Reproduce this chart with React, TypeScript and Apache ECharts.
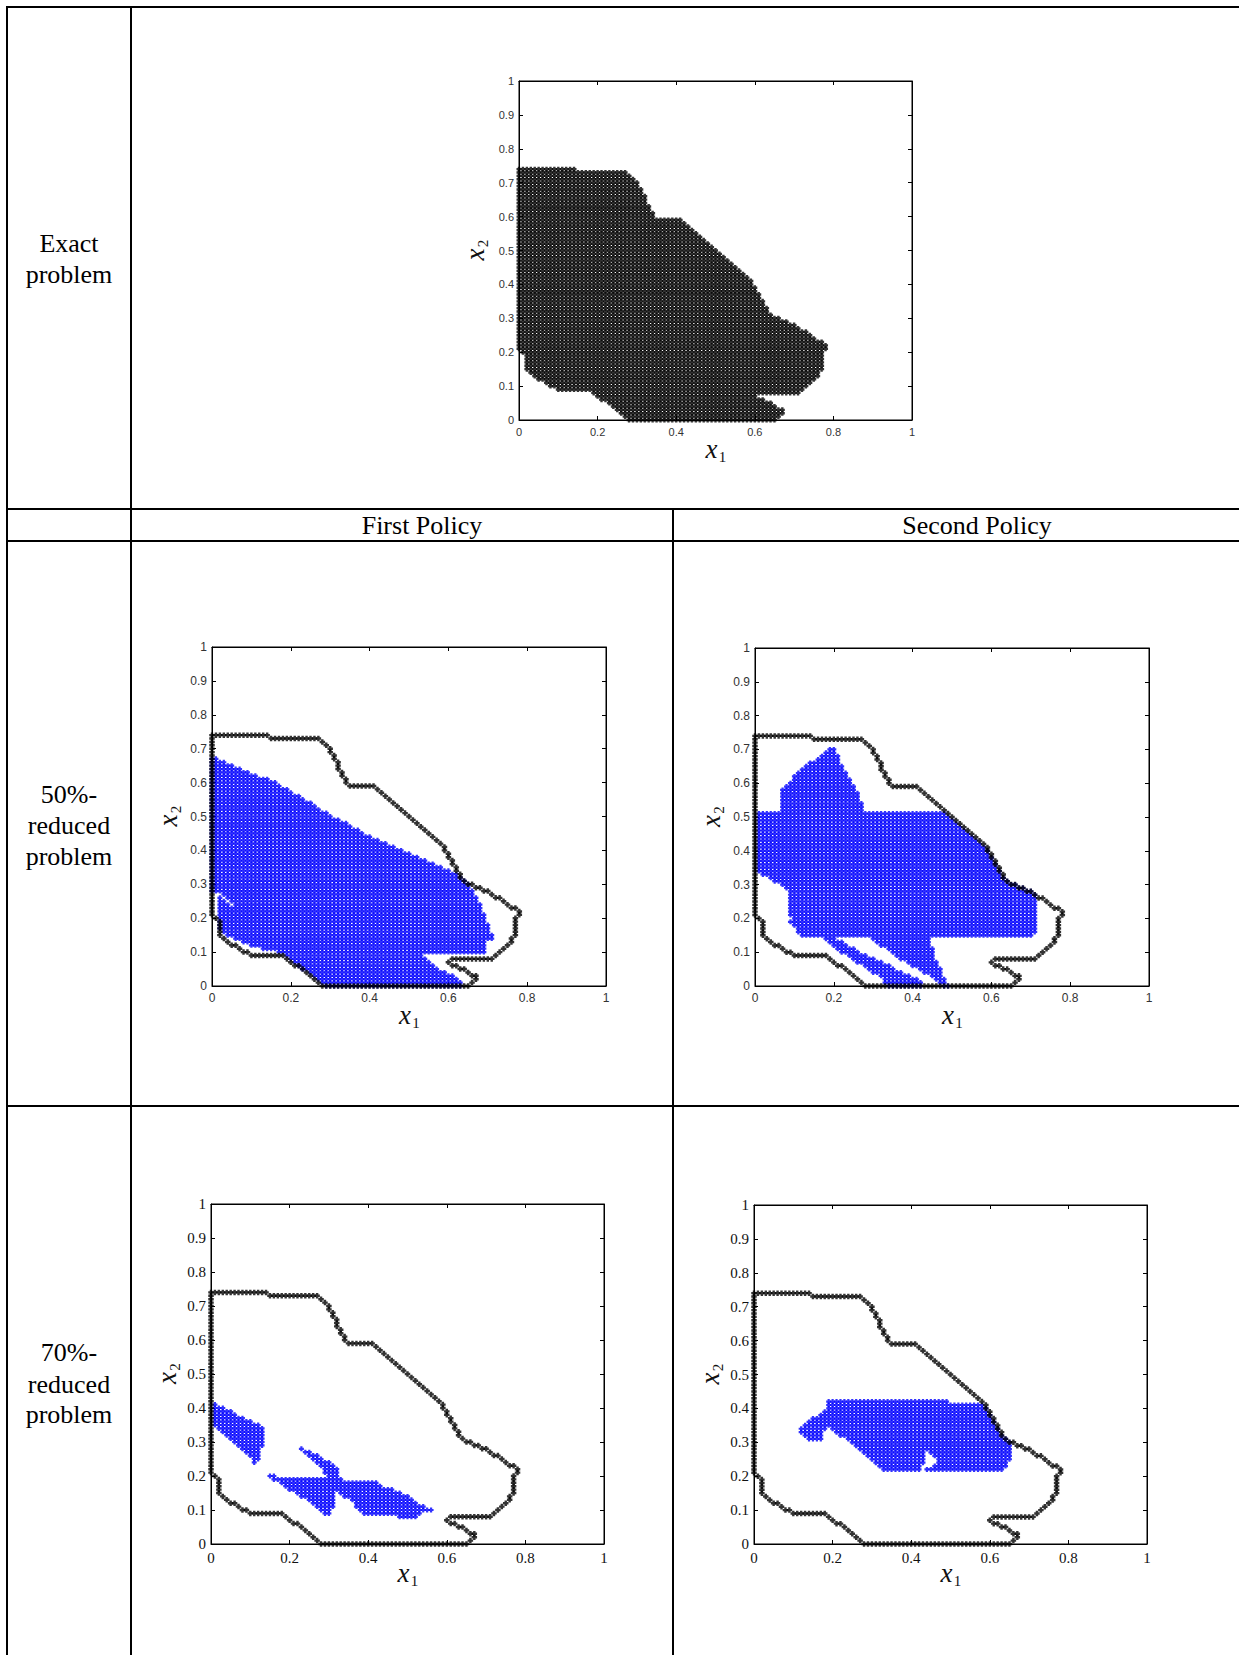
import React, { useEffect, useRef } from 'react';
import * as echarts from 'echarts';

// ---------- DATA (grid step 0.01; rows are [y*100, xStart*100, xEnd*100]) ----------
const EXACT_ROWS: number[][] = [
  [0, 28, 65], [1, 27, 66], [2, 26, 67], [3, 25, 67], [4, 24, 65], [5, 23, 64], [6, 21, 62], [7, 20, 60],
  [8, 19, 71], [9, 10, 72], [10, 8, 73], [11, 7, 74], [12, 5, 75], [13, 4, 76], [14, 3, 76], [15, 2, 77],
  [16, 2, 77], [17, 2, 77], [18, 2, 77], [19, 2, 77], [20, 1, 77], [21, 0, 78], [22, 0, 78], [23, 0, 77],
  [24, 0, 75], [25, 0, 74], [26, 0, 73], [27, 0, 71], [28, 0, 70], [29, 0, 68], [30, 0, 66], [31, 0, 64],
  [32, 0, 63], [33, 0, 63], [34, 0, 62], [35, 0, 62], [36, 0, 61], [37, 0, 61], [38, 0, 60], [39, 0, 60],
  [40, 0, 59], [41, 0, 59], [42, 0, 58], [43, 0, 57], [44, 0, 56], [45, 0, 55], [46, 0, 54], [47, 0, 53],
  [48, 0, 52], [49, 0, 51], [50, 0, 50], [51, 0, 49], [52, 0, 48], [53, 0, 47], [54, 0, 46], [55, 0, 45],
  [56, 0, 44], [57, 0, 43], [58, 0, 42], [59, 0, 41], [60, 0, 34], [61, 0, 34], [62, 0, 33], [63, 0, 33],
  [64, 0, 32], [65, 0, 32], [66, 0, 32], [67, 0, 31], [68, 0, 31], [69, 0, 30], [70, 0, 30], [71, 0, 29],
  [72, 0, 28], [73, 0, 27], [74, 0, 14],
];

const FIRST_50_ROWS: number[][] = [
  [67, 0, 1], [66, 0, 3], [65, 0, 5], [64, 0, 7], [63, 0, 9], [62, 0, 11], [61, 0, 14], [60, 0, 16],
  [59, 0, 17], [58, 0, 19], [57, 0, 20], [56, 0, 22], [55, 0, 23], [54, 0, 25], [53, 0, 26], [52, 0, 27],
  [51, 0, 29], [50, 0, 30], [49, 0, 32], [48, 0, 34], [47, 0, 35], [46, 0, 37], [45, 0, 38], [44, 0, 40],
  [43, 0, 42], [42, 0, 44], [41, 0, 46], [40, 0, 48], [39, 0, 50], [38, 0, 52], [37, 0, 54], [36, 0, 56],
  [35, 0, 58], [34, 0, 60], [33, 0, 62], [32, 0, 63], [31, 0, 64], [30, 0, 65], [29, 0, 65], [28, 0, 66],
  [27, 3, 66], [26, 2, 2], [26, 4, 67], [25, 2, 3], [25, 5, 67], [24, 2, 4], [24, 6, 68], [23, 2, 68],
  [22, 2, 68], [21, 2, 69], [20, 2, 69], [19, 2, 69], [18, 2, 70], [17, 2, 70], [16, 3, 70], [15, 4, 71],
  [14, 6, 71], [13, 8, 69], [12, 10, 69], [11, 13, 69], [10, 17, 69], [9, 19, 53], [8, 20, 54], [7, 21, 55],
  [6, 22, 56], [5, 23, 57], [4, 25, 59], [3, 26, 61], [2, 27, 62], [1, 28, 63], [0, 29, 63],
];

const SECOND_50_ROWS: number[][] = [
  [70, 19, 20], [69, 18, 20], [68, 17, 21], [67, 16, 21], [66, 14, 21], [65, 13, 22], [64, 12, 22],
  [63, 11, 23], [62, 10, 23], [61, 10, 24], [60, 9, 24], [59, 8, 25], [58, 7, 25], [57, 7, 26], [56, 7, 26],
  [55, 7, 26], [54, 7, 27], [53, 7, 27], [52, 7, 27], [51, 1, 48], [50, 1, 49], [49, 1, 50], [48, 1, 51],
  [47, 1, 52], [46, 1, 53], [45, 1, 54], [44, 1, 55], [43, 1, 56], [42, 1, 57], [41, 1, 58], [40, 1, 59],
  [39, 1, 59], [38, 1, 60], [37, 1, 60], [36, 1, 61], [35, 1, 61], [34, 1, 62], [33, 2, 62], [32, 4, 63],
  [31, 5, 64], [30, 7, 66], [29, 8, 68], [28, 9, 70], [27, 9, 71], [26, 9, 71], [25, 9, 71], [24, 9, 71],
  [23, 9, 71], [22, 9, 71], [21, 9, 71], [20, 10, 71], [19, 9, 71], [18, 10, 71], [17, 11, 71], [16, 11, 71],
  [15, 12, 70], [14, 18, 20], [14, 30, 44], [13, 19, 22], [13, 31, 44], [12, 20, 23], [12, 32, 44],
  [11, 21, 25], [11, 34, 45], [10, 22, 26], [10, 35, 45], [9, 24, 28], [9, 36, 45], [8, 25, 30], [8, 37, 45],
  [7, 26, 32], [7, 39, 46], [6, 28, 34], [6, 40, 46], [5, 29, 35], [5, 42, 47], [4, 30, 37], [4, 43, 47],
  [3, 32, 39], [3, 45, 47], [2, 33, 41], [2, 46, 48], [1, 33, 42], [1, 47, 48], [0, 34, 42], [0, 48, 49],
];

const FIRST_70_ROWS: number[][] = [
  [41, 1, 1], [40, 1, 3], [39, 1, 5], [38, 1, 6], [37, 1, 8], [36, 1, 10], [35, 1, 12], [34, 2, 13],
  [33, 3, 13], [32, 4, 13], [31, 5, 13], [30, 6, 13], [29, 7, 13], [28, 8, 12], [27, 9, 12], [26, 10, 12],
  [25, 11, 12], [24, 11, 11],
  [28, 23, 23], [27, 24, 25], [26, 25, 27], [25, 26, 28], [24, 27, 30], [23, 28, 31], [22, 29, 32],
  [21, 29, 32], [20, 15, 16], [20, 30, 32], [19, 16, 33], [18, 18, 42], [17, 19, 43], [16, 20, 46],
  [15, 22, 31], [15, 33, 48], [14, 23, 31], [14, 34, 50], [13, 25, 31], [13, 36, 51], [12, 26, 31],
  [12, 37, 52], [11, 27, 31], [11, 37, 54], [10, 28, 30], [10, 38, 56], [9, 29, 30], [9, 39, 53], [8, 48, 52],
];

const SECOND_70_ROWS: number[][] = [
  [42, 19, 49], [41, 19, 58], [40, 19, 59], [39, 18, 59], [38, 17, 60], [37, 15, 60], [36, 14, 61],
  [35, 13, 61], [34, 12, 18], [34, 20, 62], [33, 12, 17], [33, 21, 62], [32, 13, 17], [32, 22, 63],
  [31, 14, 17], [31, 24, 64], [30, 25, 65], [29, 26, 65], [28, 27, 65], [27, 28, 43], [27, 45, 65],
  [26, 29, 43], [26, 46, 65], [25, 30, 43], [25, 47, 65], [24, 31, 43], [24, 47, 64], [23, 32, 42],
  [23, 46, 64], [22, 33, 42], [22, 44, 63],
];

const X_TICK_INTERVAL = 0.2;
const Y_TICK_INTERVAL = 0.1;

// ---------- helpers ----------
function expand(rows: number[][]): number[][] {
  const pts: number[][] = [];
  for (const [y, a, b] of rows) for (let x = a; x <= b; x++) pts.push([x / 100, y / 100]);
  return pts;
}
function boundary(rows: number[][]): number[][] {
  const set = new Set<string>();
  for (const [y, a, b] of rows) for (let x = a; x <= b; x++) set.add(x + ',' + y);
  const out: number[][] = [];
  for (const [y, a, b] of rows)
    for (let x = a; x <= b; x++) {
      if (!set.has(x - 1 + ',' + y) || !set.has(x + 1 + ',' + y) || !set.has(x + ',' + (y - 1)) || !set.has(x + ',' + (y + 1)))
        out.push([x / 100, y / 100]);
    }
  return out;
}

const SANS = '"Liberation Sans", Arial, sans-serif';
const SERIF = '"Liberation Serif", "Times New Roman", serif';

const FILL_SYMBOL = 'path://M2.6,0H7.4V2.6H10V7.4H7.4V10H2.6V7.4H0V2.6H2.6Z';
const BLUE_SYMBOL = 'path://M2.8,0H7.2V2.8H10V7.2H7.2V10H2.8V7.2H0V2.8H2.8Z';
const STAR_SYMBOL = 'path://M2.8,0H7.2V2.8H10V7.2H7.2V10H2.8V7.2H0V2.8H2.8Z';

const GRIDS = [
  { left: 519, top: 81, width: 393, height: 339, font: SANS, size: 11, color: '#333' },
  { left: 212, top: 647, width: 394, height: 339, font: SANS, size: 12, color: '#333' },
  { left: 755, top: 648, width: 394, height: 338, font: SANS, size: 12, color: '#333' },
  { left: 211, top: 1204, width: 393, height: 340, font: SERIF, size: 15, color: '#111' },
  { left: 754, top: 1205, width: 393, height: 339, font: SERIF, size: 15, color: '#111' },
];

const fmt = (v: number) => String(Math.round(v * 10) / 10);

function txt(x: number, y: number, text: string, font: string, extra: any = {}) {
  return {
    type: 'text', x, y, silent: true,
    style: { text, font, fill: '#000', align: 'center', verticalAlign: 'middle', textAlign: 'center', textVerticalAlign: 'middle', ...extra },
  };
}

export default function App() {
  const ref = useRef<HTMLDivElement>(null);
  useEffect(() => {
    if (!ref.current) return;
    const chart = echarts.init(ref.current, undefined, { renderer: 'svg' });

    const xAxis: any[] = [];
    const yAxis: any[] = [];
    GRIDS.forEach((g, i) => {
      const tick = { show: true, inside: true, length: 4, lineStyle: { color: '#000', width: 1 } };
      const line = { show: true, onZero: false, lineStyle: { color: '#000', width: 1 } };
      const label = { show: true, margin: 6, fontSize: g.size, fontFamily: g.font, color: g.color, formatter: fmt };
      xAxis.push({ type: 'value', gridIndex: i, min: 0, max: 1, interval: X_TICK_INTERVAL, position: 'bottom', axisLine: line, axisTick: tick, axisLabel: label, splitLine: { show: false } });
      xAxis.push({ type: 'value', gridIndex: i, min: 0, max: 1, interval: X_TICK_INTERVAL, position: 'top', axisLine: line, axisTick: tick, axisLabel: { show: false }, splitLine: { show: false } });
      yAxis.push({ type: 'value', gridIndex: i, min: 0, max: 1, interval: Y_TICK_INTERVAL, position: 'left', axisLine: line, axisTick: tick, axisLabel: { ...label, margin: 5 }, splitLine: { show: false } });
      yAxis.push({ type: 'value', gridIndex: i, min: 0, max: 1, interval: Y_TICK_INTERVAL, position: 'right', axisLine: line, axisTick: tick, axisLabel: { show: false }, splitLine: { show: false } });
    });

    const exactPts = expand(EXACT_ROWS);
    const outlinePts = boundary(EXACT_ROWS);
    const blueSets = [FIRST_50_ROWS, SECOND_50_ROWS, FIRST_70_ROWS, SECOND_70_ROWS];

    const common = { type: 'scatter', silent: true, progressive: 0, clip: false, animation: false };
    const series: any[] = [
      { ...common, xAxisIndex: 0, yAxisIndex: 0, data: exactPts, symbol: FILL_SYMBOL, symbolSize: 5, itemStyle: { color: '#000' } },
    ];
    blueSets.forEach((rows, k) => {
      const gi = k + 1;
      series.push({ ...common, xAxisIndex: gi * 2, yAxisIndex: gi * 2, data: expand(rows), symbol: BLUE_SYMBOL, symbolSize: 5, itemStyle: { color: '#0000ff' } });
      series.push({ ...common, xAxisIndex: gi * 2, yAxisIndex: gi * 2, data: outlinePts, symbol: STAR_SYMBOL, symbolSize: 5.5, itemStyle: { color: '#000' } });
    });

    const graphics: any[] = [];
    // table rules
    const rules = [
      [6, 7, 1239, 7], [7, 6, 7, 1655], [131, 6, 131, 1655], [673, 509, 673, 1655],
      [6, 509, 1239, 509], [6, 541, 1239, 541], [6, 1106, 1239, 1106],
    ];
    rules.forEach(([x1, y1, x2, y2]) =>
      graphics.push({ type: 'line', silent: true, shape: { x1, y1, x2, y2 }, style: { stroke: '#000', lineWidth: 2 } })
    );
    const F26 = '26px ' + SERIF;
    graphics.push(txt(69, 243, 'Exact', F26), txt(69, 274, 'problem', F26));
    graphics.push(txt(422, 525, 'First Policy', F26), txt(977, 525, 'Second Policy', F26));
    graphics.push(txt(69, 794, '50%-', F26), txt(69, 825, 'reduced', F26), txt(69, 856, 'problem', F26));
    graphics.push(txt(69, 1352, '70%-', F26), txt(69, 1384, 'reduced', F26), txt(69, 1414, 'problem', F26));

    // axis names
    const NAME_X = 'italic 27px ' + SERIF;
    const NAME_S = '15px ' + SERIF;
    GRIDS.forEach((g) => {
      const cx = g.left + g.width / 2;
      const by = g.top + g.height;
      graphics.push({ ...txt(cx - 4, by + 29, 'x', NAME_X, { fill: '#111' }) });
      graphics.push({ ...txt(cx + 7, by + 37, '1', NAME_S, { fill: '#111' }) });
      graphics.push({
        type: 'group', x: g.left - 44, y: g.top + g.height / 2, rotation: Math.PI / 2, silent: true,
        children: [txt(-4, 0, 'x', NAME_X, { fill: '#111' }), txt(7, 8, '2', NAME_S, { fill: '#111' })],
      });
    });

    chart.setOption({
      animation: false,
      backgroundColor: '#fff',
      grid: GRIDS.map((g) => ({ left: g.left, top: g.top, width: g.width, height: g.height, show: true, borderColor: '#000', borderWidth: 1, backgroundColor: '#fff' })),
      xAxis,
      yAxis,
      series,
      graphic: { elements: graphics },
    });
    return () => chart.dispose();
  }, []);
  return <div ref={ref} style={{ position: 'absolute', left: 0, top: 0, width: 1239, height: 1655, background: '#fff' }} />;
}
